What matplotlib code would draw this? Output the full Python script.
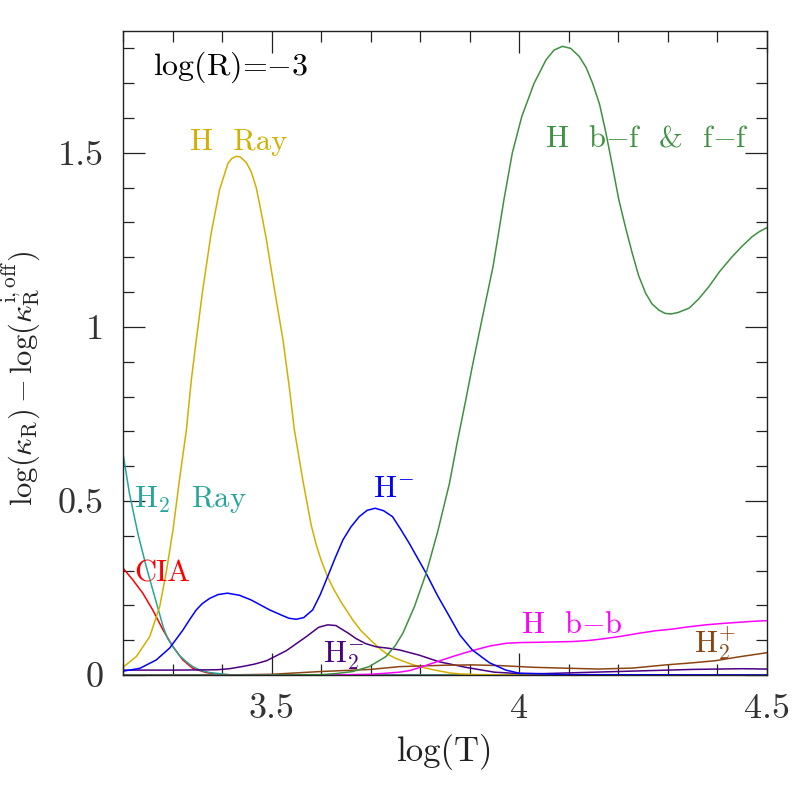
import matplotlib
matplotlib.use("Agg")
import matplotlib.pyplot as plt
from matplotlib.ticker import MultipleLocator, FormatStrFormatter

plt.rcParams["font.family"] = ["cmr10", "DejaVu Serif"]
plt.rcParams["mathtext.fontset"] = "cm"
plt.rcParams["axes.formatter.use_mathtext"] = True

# --- curves: log(T) vs delta log(kappa_R) ---
h_bf_x = [3.20, 3.50, 3.60, 3.63, 3.664, 3.697, 3.731, 3.75, 3.765, 3.788, 3.812,
          3.835, 3.859, 3.875, 3.892, 3.905, 3.919, 3.933, 3.947, 3.958, 3.969,
          3.986, 4.005, 4.030, 4.054, 4.070, 4.087, 4.104, 4.121, 4.135, 4.148,
          4.162, 4.175, 4.188, 4.201, 4.215, 4.228, 4.241, 4.255, 4.268, 4.282,
          4.294, 4.306, 4.320, 4.343, 4.362, 4.383, 4.405, 4.430, 4.450, 4.470,
          4.485, 4.500]
h_bf_y = [0.0, 0.0, 0.001, 0.004, 0.010, 0.024, 0.053, 0.085, 0.120, 0.195, 0.292,
          0.410, 0.550, 0.670, 0.790, 0.885, 0.982, 1.078, 1.173, 1.268, 1.365,
          1.500, 1.604, 1.700, 1.767, 1.795, 1.806, 1.800, 1.777, 1.745, 1.700,
          1.640, 1.557, 1.462, 1.365, 1.283, 1.212, 1.147, 1.097, 1.066, 1.048,
          1.039, 1.037, 1.041, 1.054, 1.080, 1.116, 1.160, 1.202, 1.232, 1.259,
          1.274, 1.285]

h_ray_x = [3.200, 3.227, 3.254, 3.274, 3.287, 3.301, 3.314, 3.328, 3.338, 3.348,
           3.361, 3.378, 3.395, 3.412, 3.420, 3.429, 3.437, 3.449, 3.459, 3.469,
           3.479, 3.489, 3.506, 3.523, 3.536, 3.546, 3.563, 3.580, 3.590, 3.600,
           3.613, 3.626, 3.640, 3.664, 3.680, 3.700, 3.715, 3.731, 3.750, 3.765,
           3.780, 3.798, 3.830, 3.859, 3.880, 3.920, 4.000, 4.500]
h_ray_y = [0.022, 0.053, 0.110, 0.196, 0.292, 0.417, 0.560, 0.704, 0.848, 0.963,
           1.106, 1.269, 1.394, 1.470, 1.484, 1.490, 1.488, 1.472, 1.445, 1.400,
           1.330, 1.255, 1.106, 0.963, 0.824, 0.704, 0.560, 0.430, 0.375, 0.330,
           0.282, 0.245, 0.210, 0.158, 0.128, 0.100, 0.080, 0.062, 0.048, 0.040,
           0.032, 0.024, 0.014, 0.006, 0.003, 0.001, 0.0, 0.0]

hm_x = [3.200, 3.234, 3.267, 3.294, 3.321, 3.335, 3.348, 3.360, 3.375, 3.392,
        3.411, 3.435, 3.458, 3.496, 3.520, 3.535, 3.550, 3.565, 3.583, 3.598,
        3.613, 3.628, 3.644, 3.660, 3.677, 3.693, 3.709, 3.726, 3.744, 3.760,
        3.778, 3.795, 3.812, 3.835, 3.859, 3.880, 3.905, 3.940, 3.973, 4.000,
        4.100, 4.500]
hm_y = [0.011, 0.019, 0.043, 0.077, 0.129, 0.160, 0.187, 0.205, 0.220, 0.231,
        0.235, 0.229, 0.216, 0.187, 0.172, 0.163, 0.160, 0.165, 0.187, 0.230,
        0.282, 0.335, 0.388, 0.425, 0.455, 0.473, 0.479, 0.472, 0.455, 0.420,
        0.378, 0.335, 0.292, 0.228, 0.168, 0.115, 0.072, 0.035, 0.014, 0.005,
        0.001, 0.0]

h2m_x = [3.20, 3.30, 3.39, 3.415, 3.44, 3.465, 3.49, 3.53, 3.57, 3.595, 3.613,
         3.63, 3.64, 3.655, 3.67, 3.69, 3.711, 3.735, 3.758, 3.798, 3.838, 3.892,
         3.95, 4.00, 4.05, 4.15, 4.25, 4.35, 4.45, 4.50]
h2m_y = [0.014, 0.014, 0.015, 0.018, 0.024, 0.031, 0.041, 0.070, 0.110, 0.137,
         0.144, 0.142, 0.133, 0.120, 0.105, 0.090, 0.081, 0.077, 0.072, 0.057,
         0.038, 0.022, 0.008, 0.004, 0.004, 0.008, 0.012, 0.016, 0.018, 0.017]

h2p_x = [3.20, 3.40, 3.50, 3.60, 3.70, 3.758, 3.85, 3.905, 3.96, 4.03, 4.107,
         4.16, 4.23, 4.296, 4.35, 4.396, 4.443, 4.50]
h2p_y = [0.0, 0.0, 0.002, 0.010, 0.016, 0.024, 0.028, 0.029, 0.027, 0.022, 0.019,
         0.017, 0.020, 0.029, 0.035, 0.041, 0.052, 0.064]

h_bb_x = [3.20, 3.60, 3.66, 3.70, 3.731, 3.758, 3.78, 3.80, 3.838, 3.87, 3.905,
          3.94, 3.973, 4.00, 4.04, 4.07, 4.107, 4.14, 4.17, 4.205, 4.242, 4.275,
          4.31, 4.34, 4.376, 4.41, 4.44, 4.47, 4.50]
h_bb_y = [0.0, 0.0, 0.001, 0.002, 0.005, 0.008, 0.013, 0.022, 0.040, 0.055, 0.070,
          0.083, 0.091, 0.093, 0.094, 0.095, 0.096, 0.099, 0.104, 0.111, 0.120,
          0.127, 0.132, 0.138, 0.144, 0.148, 0.151, 0.154, 0.156]

h2_ray_x = [3.200, 3.213, 3.230, 3.247, 3.264, 3.281, 3.290, 3.301, 3.314, 3.328,
            3.340, 3.355, 3.375, 3.420, 4.500]
h2_ray_y = [0.637, 0.522, 0.407, 0.311, 0.225, 0.139, 0.105, 0.081, 0.056, 0.038,
            0.025, 0.014, 0.007, 0.0, 0.0]

cia_x = [3.200, 3.210, 3.220, 3.240, 3.260, 3.281, 3.301, 3.321, 3.341, 3.368,
         3.385, 3.400, 3.450, 4.500]
cia_y = [0.307, 0.290, 0.273, 0.235, 0.187, 0.129, 0.081, 0.043, 0.019, 0.007,
         0.003, 0.001, 0.0, 0.0]

series = [
    (cia_x, cia_y, "#ff0000"),
    (h2_ray_x, h2_ray_y, "#26a69a"),
    (h_ray_x, h_ray_y, "#d4af00"),
    (h2m_x, h2m_y, "#4b0082"),
    (h2p_x, h2p_y, "#8b4513"),
    (h_bb_x, h_bb_y, "#ff00ff"),
    (hm_x, hm_y, "#0000ff"),
    (h_bf_x, h_bf_y, "#3d9140"),
]

fig = plt.figure(figsize=(7.97, 7.97), dpi=100)
ax = fig.add_axes([0.1543, 0.1531, 0.808, 0.808])

for xs, ys, c in series:
    ax.plot(xs, ys, color=c, lw=1.1, solid_joinstyle="round")

ax.set_xlim(3.2, 4.5)
ax.set_ylim(0, 1.85)

ax.xaxis.set_major_locator(MultipleLocator(0.5))
ax.xaxis.set_minor_locator(MultipleLocator(0.1))
ax.yaxis.set_major_locator(MultipleLocator(0.5))
ax.yaxis.set_minor_locator(MultipleLocator(0.1))
ax.xaxis.set_major_formatter(FormatStrFormatter("%g"))
ax.yaxis.set_major_formatter(FormatStrFormatter("%g"))

ax.tick_params(which="both", direction="in", top=True, right=True,
               colors="#222222", labelcolor="#333333", width=0.9)
ax.tick_params(which="major", length=16, labelsize=26)
ax.tick_params(axis="x", which="major", pad=13)
ax.tick_params(axis="y", which="major", pad=14)
ax.tick_params(which="minor", length=8)
for sp in ax.spines.values():
    sp.set_color("#222222")
    sp.set_linewidth(1.0)

ax.set_xlabel("log(T)", fontsize=25, color="#222222", labelpad=7)
ax.set_ylabel(r"$\log(\kappa_{\rm R})-\log(\kappa_{\rm R}^{\rm i,off})$",
              fontsize=22, color="#222222")
ax.yaxis.set_label_coords(-0.125, 0.46)

fs = 22
ax.text(3.26, 1.724, r"log(R)=$-3$", fontsize=23, color="black", va="baseline")
ax.text(3.335, 1.509, "H  Ray", fontsize=fs, color="#d4af00", va="baseline")
ax.text(4.052, 1.518, r"H  b$-$f  &  f$-$f", fontsize=fs, color="#3d9140", va="baseline")
ax.text(3.223, 0.484, r"H$_2$  Ray", fontsize=fs, color="#26a69a", va="baseline")
ax.text(3.223, 0.268, "CIA", fontsize=fs, color="#ff0000", va="baseline")
ax.text(3.704, 0.511, r"H$^{-}$", fontsize=fs, color="#0000ff", va="baseline")
ax.text(3.603, 0.038, r"H$_2^{-}$", fontsize=fs, color="#4b0082", va="baseline")
ax.text(4.003, 0.120, r"H  b$-$b", fontsize=fs, color="#ff00ff", va="baseline")
ax.text(4.353, 0.064, r"H$_2^{+}$", fontsize=fs, color="#8b4513", va="baseline")

fig.savefig("out.png", dpi=100)
